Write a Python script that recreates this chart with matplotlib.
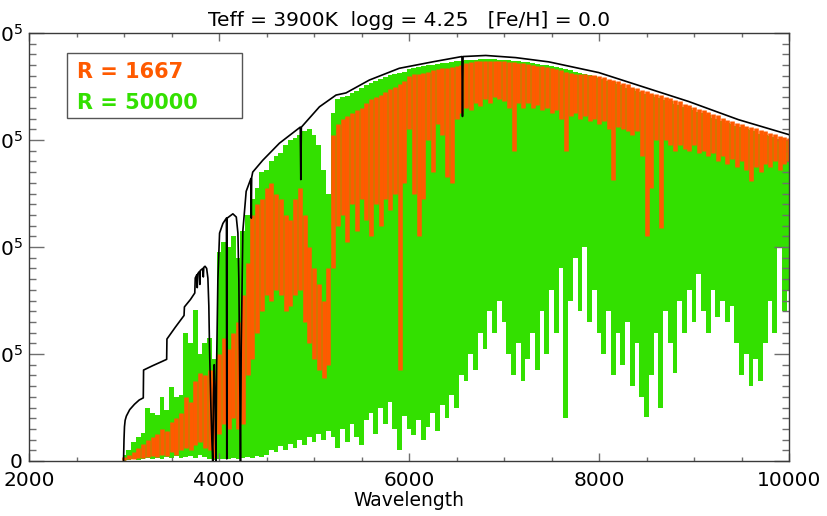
import numpy as np
import matplotlib
matplotlib.use("Agg")
import matplotlib.pyplot as plt
from matplotlib.ticker import MultipleLocator, FixedLocator

# ---- data (flux in units of 1e5) ----
wave = np.arange(3000, 10001, 50)

green_hi = [
    0.06, 0.10, 0.18, 0.22, 0.26, 0.50, 0.45, 0.43, 0.60, 0.48,
    0.69, 0.60, 0.62, 1.20, 1.10, 1.41, 1.00, 1.10, 1.15, 0.95,
    1.95, 2.05, 2.00, 2.10, 1.90, 2.15, 2.30, 2.45, 2.55, 2.70,
    2.72, 2.80, 2.85, 2.88, 2.95, 3.00, 3.02, 3.05, 3.08, 3.10,
    3.05, 2.95, 2.72, 2.50, 3.25, 3.38, 3.40, 3.41, 3.44, 3.46,
    3.49, 3.51, 3.53, 3.55, 3.57, 3.59, 3.61, 3.62, 3.63, 3.64,
    3.66, 3.67, 3.68, 3.69, 3.70, 3.70, 3.71, 3.72, 3.72, 3.73,
    3.74, 3.74, 3.75, 3.75, 3.75, 3.76, 3.76, 3.76, 3.76, 3.75,
    3.75, 3.75, 3.74, 3.74, 3.73, 3.73, 3.72, 3.71, 3.70, 3.70,
    3.69, 3.68, 3.67, 3.66, 3.65, 3.64, 3.63, 3.62, 3.61, 3.60,
    3.58, 3.57, 3.55, 3.54, 3.52, 3.51, 3.49, 3.48, 3.46, 3.45,
    3.43, 3.42, 3.40, 3.39, 3.37, 3.36, 3.34, 3.33, 3.31, 3.30,
    3.28, 3.26, 3.25, 3.23, 3.21, 3.20, 3.18, 3.16, 3.15, 3.13,
    3.12, 3.10, 3.09, 3.08, 3.06, 3.05, 3.04, 3.03, 3.01, 3.00,
    2.99,
]

green_lo = [
    0.00, 0.01, 0.02, 0.01, 0.02, 0.03, 0.02, 0.03, 0.02, 0.04,
    0.03, 0.05, 0.03, 0.04, 0.05, 0.03, 0.06, 0.04, 0.02, 0.01,
    0.02, 0.02, 0.02, 0.03, 0.02, 0.03, 0.04, 0.03, 0.05, 0.04,
    0.06, 0.10, 0.08, 0.14, 0.10, 0.16, 0.12, 0.20, 0.15, 0.22,
    0.18, 0.25, 0.20, 0.28, 0.22, 0.12, 0.30, 0.18, 0.35, 0.22,
    0.15, 0.38, 0.45, 0.25, 0.50, 0.35, 0.55, 0.30, 0.10, 0.42,
    0.30, 0.24, 0.38, 0.20, 0.32, 0.45, 0.28, 0.52, 0.40, 0.62,
    0.50, 0.80, 0.75, 1.00, 0.85, 1.20, 1.05, 1.40, 1.20, 1.50,
    1.30, 1.00, 0.80, 1.10, 0.75, 0.95, 1.20, 0.85, 1.40, 1.00,
    1.60, 1.20, 1.80, 0.40, 1.50, 1.90, 1.40, 2.00, 1.30, 1.60,
    1.20, 1.00, 1.40, 0.80, 1.20, 0.90, 1.30, 0.70, 1.10, 0.60,
    0.41, 0.80, 1.20, 0.50, 1.40, 1.10, 0.82, 1.50, 1.20, 1.60,
    1.30, 1.75, 1.40, 1.20, 1.60, 1.35, 1.50, 1.30, 1.45, 1.10,
    0.80, 1.00, 0.70, 0.95, 0.75, 1.10, 1.50, 1.20, 2.00, 1.40,
    1.60,
]

orange_hi = [
    0.04, 0.06, 0.08, 0.12, 0.16, 0.20, 0.22, 0.25, 0.30, 0.28,
    0.36, 0.40, 0.45, 0.60, 0.55, 0.75, 0.82, 0.80, 0.85, 0.75,
    1.00, 1.15, 1.05, 1.20, 1.30, 1.55, 1.85, 2.30, 2.40, 2.45,
    2.55, 2.60, 2.50, 2.45, 2.30, 2.25, 2.45, 2.55, 2.30, 2.00,
    1.80, 1.65, 1.50, 1.80, 3.05, 3.15, 3.20, 3.22, 3.25, 3.28,
    3.30, 3.35, 3.38, 3.40, 3.42, 3.45, 3.48, 3.50, 3.52, 3.55,
    3.60, 3.62, 3.62, 3.63, 3.64, 3.65, 3.66, 3.67, 3.67, 3.68,
    3.69, 3.70, 3.72, 3.73, 3.74, 3.74, 3.74, 3.74, 3.74, 3.74,
    3.74, 3.73, 3.73, 3.72, 3.72, 3.71, 3.70, 3.69, 3.69, 3.68,
    3.67, 3.66, 3.65, 3.64, 3.63, 3.62, 3.62, 3.62, 3.61, 3.61,
    3.60, 3.59, 3.57, 3.56, 3.55, 3.53, 3.52, 3.50, 3.49, 3.47,
    3.46, 3.44, 3.43, 3.42, 3.40, 3.39, 3.37, 3.36, 3.34, 3.33,
    3.31, 3.29, 3.28, 3.26, 3.24, 3.23, 3.21, 3.19, 3.18, 3.16,
    3.15, 3.13, 3.12, 3.11, 3.09, 3.08, 3.07, 3.06, 3.04, 3.03,
    3.02,
]

orange_lo = [
    0.01, 0.02, 0.02, 0.03, 0.03, 0.04, 0.05, 0.04, 0.06, 0.05,
    0.08, 0.06, 0.10, 0.12, 0.10, 0.15, 0.18, 0.12, 0.10, 0.03,
    0.25, 0.35, 0.30, 0.40, 0.30, 0.35, 0.80, 0.95, 1.20, 1.40,
    1.55, 1.50, 1.60, 1.55, 1.40, 1.45, 1.55, 1.60, 1.30, 1.10,
    0.95, 0.85, 0.78, 0.90, 1.80, 2.20, 2.30, 2.05, 2.40, 2.15,
    2.45, 2.25, 2.10, 2.40, 2.20, 2.45, 2.35, 2.50, 0.85, 2.60,
    3.10, 2.50, 2.10, 2.45, 3.00, 2.70, 3.15, 3.05, 2.65, 2.60,
    3.20, 3.25, 3.30, 3.28, 3.35, 3.32, 3.38, 3.35, 3.40, 3.38,
    3.36, 3.30, 2.90, 3.35, 3.30, 3.35, 3.30, 3.33, 3.28, 3.30,
    3.25, 3.28, 3.20, 2.90, 3.22, 3.25, 3.20, 3.22, 3.18, 3.20,
    3.15, 3.18, 3.10, 2.63, 3.12, 3.10, 3.08, 3.05, 3.08, 2.85,
    2.10, 2.55, 3.00, 2.18, 3.00, 2.95, 2.90, 2.95, 2.92, 2.90,
    2.95, 2.88, 2.90, 2.85, 2.88, 2.80, 2.85, 2.78, 2.82, 2.75,
    2.80, 2.72, 2.62, 2.75, 2.70, 2.78, 2.75, 2.80, 2.72, 2.78,
    2.80,
]

# continuum-level model with the strongest lines only
cont_wave = [
    2995, 3000, 3005, 3012, 3025, 3060, 3110, 3160, 3203, 3206,
    3300, 3400, 3449, 3452, 3540, 3632, 3636, 3700, 3745, 3750,
    3766, 3771, 3776, 3793, 3798, 3803, 3830, 3835, 3840, 3853,
    3870, 3883, 3893, 3900, 3915, 3925, 3934, 3942, 3950, 3958,
    3968, 3975, 3988, 4006, 4041, 4078, 4082, 4086, 4146, 4182,
    4199, 4209, 4218, 4226, 4234, 4251, 4286, 4336, 4340, 4344,
    4355, 4460, 4636, 4855, 4861, 4867, 5057, 5232, 5337, 5582,
    5897, 6247, 6557, 6563, 6569, 6808, 7123, 7473, 7998, 8243,
    8943, 9468, 10000,
]
cont_flux = [
    0.00, 0.20, 0.32, 0.38, 0.42, 0.48, 0.53, 0.57, 0.59, 0.85,
    0.89, 0.93, 0.95, 1.14, 1.25, 1.36, 1.44, 1.51, 1.57, 1.71,
    1.74, 1.62, 1.75, 1.77, 1.65, 1.78, 1.80, 1.72, 1.81, 1.82,
    1.80, 1.71, 1.45, 1.07, 0.50, 0.20, 0.00, 0.60, 0.90, 0.60,
    0.00, 0.90, 1.69, 2.13, 2.22, 2.27, 0.02, 2.27, 2.31, 2.28,
    2.13, 1.69, 0.80, 0.00, 1.07, 2.15, 2.52, 2.64, 2.27, 2.65,
    2.70, 2.81, 2.97, 3.12, 2.63, 3.12, 3.31, 3.42, 3.44, 3.56,
    3.67, 3.73, 3.78, 3.22, 3.78, 3.79, 3.77, 3.73, 3.63, 3.56,
    3.36, 3.19, 3.05,
]

scale = 1e5
title = "Teff = 3900K  logg = 4.25   [Fe/H] = 0.0"
legend_labels = ["R = 1667", "R = 50000"]
y_ticks = [0, 1e5, 2e5, 3e5, 4e5]
y_ticklabels = ["0", r"$1{\times}10^5$", r"$2{\times}10^5$", r"$3{\times}10^5$", r"$4{\times}10^5$"]
x_ticks = [2000, 4000, 6000, 8000, 10000]

GREEN = "#33e000"
ORANGE = "#ff5a00"

fig = plt.figure(figsize=(8.27, 5.16), dpi=100)
ax = fig.add_axes([29 / 827, 55 / 516, 760 / 827, 428 / 516])

gl = np.array(green_lo) * scale
gh = np.array(green_hi) * scale
ol = np.array(orange_lo) * scale
oh = np.array(orange_hi) * scale

ax.fill_between(wave, gl, gh, step="mid", color=GREEN, linewidth=0, zorder=1)
ax.vlines(wave, ol, oh, colors=ORANGE, linewidth=3.3, zorder=2)
ax.plot(cont_wave, np.array(cont_flux) * scale, color="black", linewidth=1.2, zorder=3)

ax.set_xlim(2000, 10000)
ax.set_ylim(0, 4e5)
ax.xaxis.set_major_locator(FixedLocator(x_ticks))
ax.xaxis.set_minor_locator(MultipleLocator(500))
ax.yaxis.set_major_locator(FixedLocator(y_ticks))
ax.yaxis.set_minor_locator(MultipleLocator(1e4))
ax.set_yticklabels(y_ticklabels)

tick_color = "#6e6e6e"
ax.tick_params(axis="both", which="both", direction="in", top=True, right=True,
               color=tick_color, width=1.0)
ax.tick_params(axis="y", which="major", length=10.8, pad=4.5, labelsize=14.5)
ax.tick_params(axis="y", which="minor", length=5.0)
ax.tick_params(axis="x", which="major", length=5.8, pad=7, labelsize=14.5)
ax.tick_params(axis="x", which="minor", length=2.9)
for sp in ax.spines.values():
    sp.set_color("#3a3a3a")
    sp.set_linewidth(1.0)

ax.set_xlabel("Wavelength", fontsize=13.5, labelpad=1)
ax.set_title(title, fontsize=14.5, pad=5)

# legend box
box = plt.Rectangle((67 / 827, 1 - 118 / 516), 175 / 827, 65 / 516,
                    transform=fig.transFigure, fill=False, edgecolor="#555555",
                    linewidth=1.0, zorder=5)
fig.add_artist(box)
fig.text(77 / 827, 1 - 72 / 516, legend_labels[0], color=ORANGE, fontsize=15,
         fontweight="bold", va="center", ha="left")
fig.text(77 / 827, 1 - 103 / 516, legend_labels[1], color=GREEN, fontsize=15,
         fontweight="bold", va="center", ha="left")

fig.savefig("out.png", dpi=100)
